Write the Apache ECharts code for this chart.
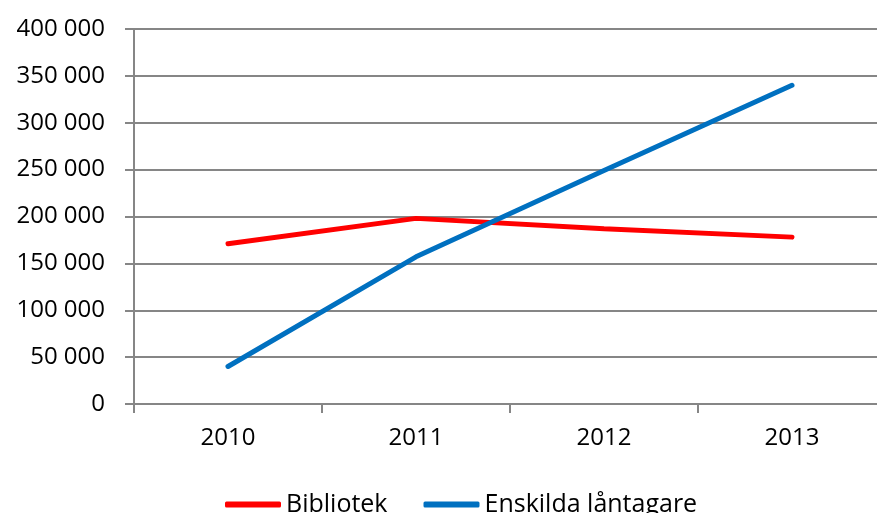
<!DOCTYPE html>
<html><head><meta charset="utf-8">
<script src="https://cdn.jsdelivr.net/npm/echarts@6/dist/echarts.min.js"></script>
<style>html,body{margin:0;padding:0;background:#fff}#c{width:877px;height:513px}</style>
</head><body><div id="c"></div>
<script>
const categories = ['2010', '2011', '2012', '2013'];
const bibliotek = [171000, 198000, 187000, 178000];
const enskilda = [40000, 157000, 249000, 340000];
const seriesNames = ['Bibliotek', 'Enskilda låntagare'];

const FONT = '"Open Sans", sans-serif';
const GRAY = '#868686';
const chart = echarts.init(document.getElementById('c'));
chart.setOption({
  animation: false,
  textStyle: { fontFamily: FONT },
  grid: { left: 134, top: 29, width: 752, height: 375, outerBoundsMode: 'none' },
  legend: {
    bottom: -9, left: 220,
    itemWidth: 56, itemHeight: 6, itemGap: 36,
    icon: 'roundRect',
    textStyle: { fontSize: 25, color: '#000', fontFamily: FONT },
    data: seriesNames
  },
  xAxis: {
    type: 'category', data: categories, boundaryGap: true,
    axisLine: { lineStyle: { color: GRAY, width: 2 } },
    axisTick: { show: true, length: 9, lineStyle: { color: GRAY, width: 2 } },
    axisLabel: { fontSize: 24, color: '#000', margin: 22 },
    splitLine: { show: false }
  },
  yAxis: {
    type: 'value', min: 0, max: 400000, interval: 50000,
    axisLine: { show: true, lineStyle: { color: GRAY, width: 2 } },
    axisTick: { show: true, length: 9, lineStyle: { color: GRAY, width: 2 } },
    axisLabel: { fontSize: 24, color: '#000', margin: 29,
      formatter: v => v === 0 ? '0' : String(v).replace(/\B(?=(\d{3})+(?!\d))/g, ' ') },
    splitLine: { lineStyle: { color: GRAY, width: 2 } }
  },
  series: [
    { name: seriesNames[0], type: 'line', data: bibliotek, symbol: 'none',
      itemStyle: { color: '#FF0000' }, lineStyle: { color: '#FF0000', width: 5, cap: 'round' } },
    { name: seriesNames[1], type: 'line', data: enskilda, symbol: 'none',
      itemStyle: { color: '#0070C0' }, lineStyle: { color: '#0070C0', width: 5, cap: 'round' } }
  ]
});
</script></body></html>
